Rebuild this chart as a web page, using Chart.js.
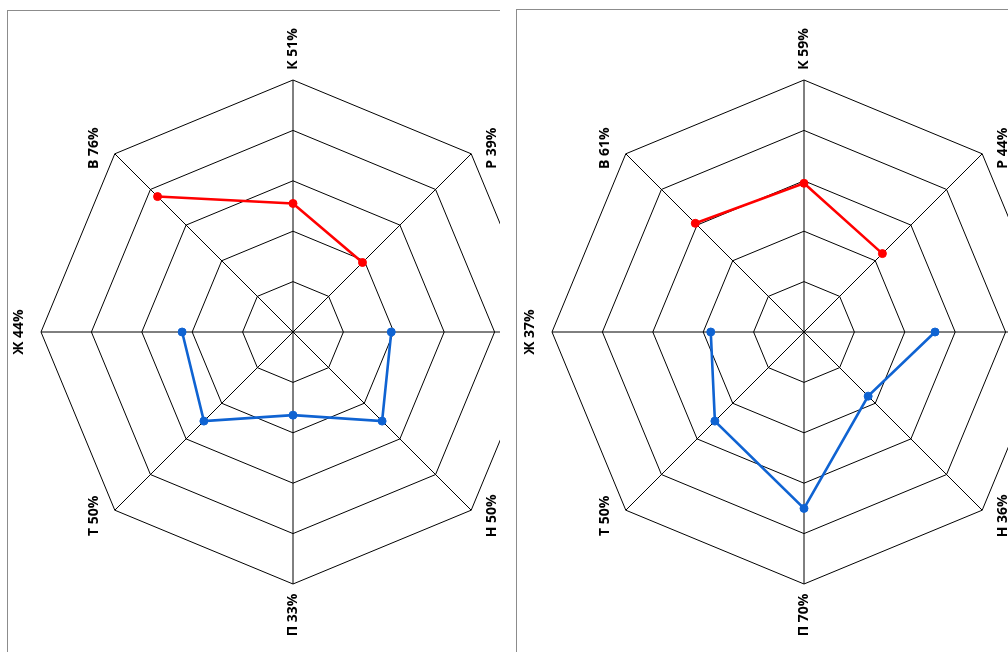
<!DOCTYPE html>
<html lang="ru">
<head>
  <meta charset="UTF-8">
  <title>Радар</title>
  <script src="https://cdn.jsdelivr.net/npm/chart.js"></script>
  <style>
    body { margin: 0; background: #fff; width: 1008px; height: 652px; overflow: hidden; position: relative; }
    .panel { position: absolute; overflow: hidden; border-left: 1px solid #8c8c8c; border-top: 1px solid #8c8c8c; height: 660px; }
    #p1 { left: 7px; top: 10px; width: 492px; }
    #p2 { left: 516px; top: 9px; width: 500px; }
    canvas { position: absolute; left: 0; top: 0; }
  </style>
</head>
<body>
  <div class="panel" id="p1"><canvas id="c1" width="570" height="644"></canvas></div>
  <div class="panel" id="p2"><canvas id="c2" width="574" height="646"></canvas></div>

  <script>
    // оси по часовой стрелке, начиная сверху (правая подпись обрезана)
    const cats = ["К", "Р", "", "Н", "П", "Т", "Ж", "В"];

    // левая диаграмма
    const pct1  = [51, 39, 39, 50, 33, 50, 44, 76];
    const red1  = [51, 39, null, null, null, null, null, 76];
    const blue1 = [null, null, 39, 50, 33, 50, 44, null];

    // правая диаграмма
    const pct2  = [59, 44, 52, 36, 70, 50, 37, 61];
    const red2  = [59, 44, null, null, null, null, null, 61];
    const blue2 = [null, null, 52, 36, 70, 50, 37, null];

    const RED = "#ff0000";
    const BLUE = "#0f63d2";

    // подписи осей, повёрнутые на 90°
    const rotatedLabels = {
      id: "rotatedLabels",
      afterDraw(chart, args, opts) {
        const scale = chart.scales.r;
        const ctx = chart.ctx;
        const pct = opts.pct;
        ctx.save();
        ctx.font = "bold 14px 'Open Sans', sans-serif";
        ctx.fillStyle = "#000";
        ctx.textAlign = "center";
        ctx.textBaseline = "middle";
        cats.forEach((c, i) => {
          if (!c) return;
          const text = c + " " + pct[i] + "%";
          const v = scale.getPointPosition(i, scale.drawingArea);
          const a = scale.getIndexAngle(i) - Math.PI / 2;
          const cos = Math.cos(a), sin = Math.sin(a);
          let x = v.x, y = v.y;
          if (Math.abs(cos) < 0.1) {
            y += Math.sign(sin) * 31;
          } else {
            x += Math.sign(cos) * (Math.abs(sin) < 0.1 ? 22 : 21);
            y += sin * 8;
          }
          ctx.save();
          ctx.translate(x, y);
          ctx.rotate(-Math.PI / 2);
          ctx.fillText(text, 0, 0);
          ctx.restore();
        });
        ctx.restore();
      }
    };

    function makeRadar(id, red, blue, pct, pad) {
      return new Chart(document.getElementById(id), {
        type: "radar",
        data: {
          labels: cats,
          datasets: [
            { data: red, borderColor: RED, backgroundColor: RED, pointBackgroundColor: RED, pointBorderColor: RED },
            { data: blue, borderColor: BLUE, backgroundColor: BLUE, pointBackgroundColor: BLUE, pointBorderColor: BLUE }
          ]
        },
        options: {
          responsive: false,
          animation: false,
          spanGaps: false,
          layout: { padding: pad },
          elements: {
            line: { borderWidth: 2.6, fill: false, tension: 0 },
            point: { radius: 4, borderWidth: 1 }
          },
          plugins: {
            legend: { display: false },
            tooltip: { enabled: false },
            rotatedLabels: { pct: pct }
          },
          scales: {
            r: {
              min: 0,
              max: 100,
              ticks: { stepSize: 20, display: false },
              grid: { color: "#000", lineWidth: 1 },
              angleLines: { color: "#000", lineWidth: 1 },
              pointLabels: { display: false }
            }
          }
        },
        plugins: [rotatedLabels]
      });
    }

    makeRadar("c1", red1, blue1, pct1, { left: 33, right: 33, top: 69, bottom: 71 });
    makeRadar("c2", red2, blue2, pct2, { left: 35, right: 35, top: 70, bottom: 72 });
  </script>
</body>
</html>
